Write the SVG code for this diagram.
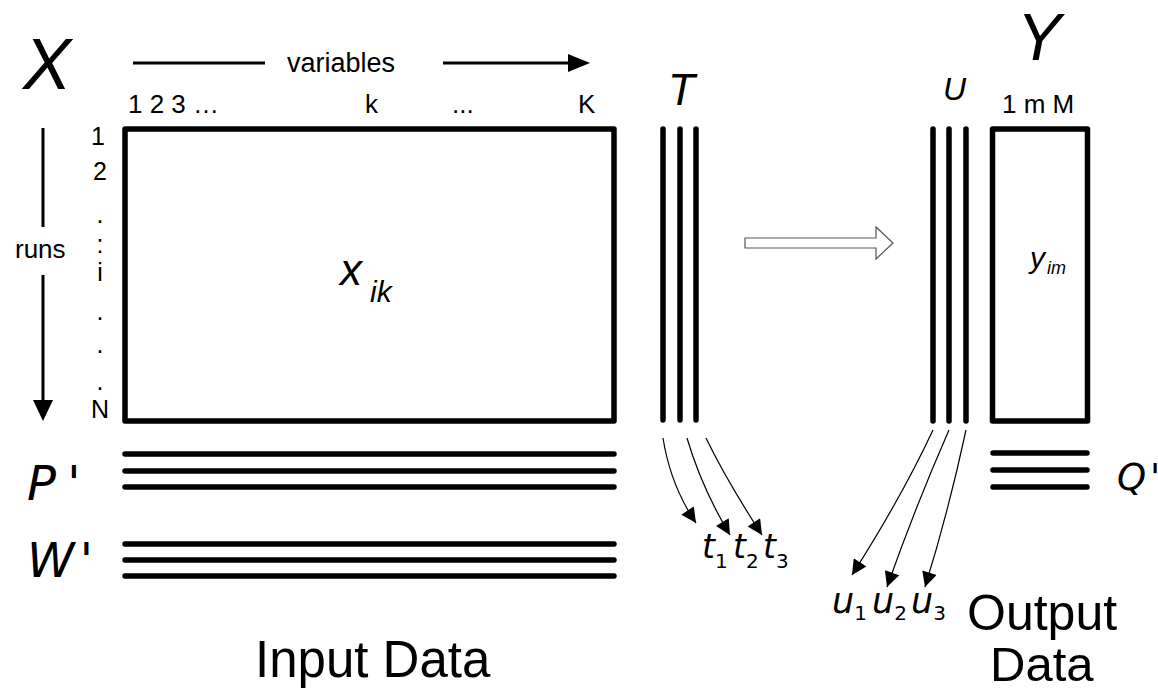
<svg xmlns="http://www.w3.org/2000/svg" width="1158" height="692" viewBox="0 0 1158 692">
  <style>
    .sans { font-family: "Liberation Sans", Arial, sans-serif; fill: #000; }
    .it { font-style: italic; }
    .dv { font-family: "DejaVu Sans", Verdana, sans-serif; font-style: italic; fill: #000; }
    .sub { font-style: normal; }
    .bar { stroke: #000; stroke-width: 5.5; stroke-linecap: round; fill: none; }
    .box { stroke: #000; stroke-width: 5.5; stroke-linejoin: round; fill: none; }
    .thin { stroke: #000; stroke-width: 1.2; fill: none; }
    .axis { stroke: #000; stroke-width: 3; fill: none; }
    .head { fill: #000; }
  </style>
  <defs>
    <marker id="tri-small" viewBox="0 0 10 10" refX="10" refY="5" markerWidth="16" markerHeight="15" markerUnits="userSpaceOnUse" orient="auto">
      <path d="M0,0 L10,5 L0,10 Z" fill="#000"/>
    </marker>
  </defs>

  <rect width="1158" height="692" fill="#fff"/>

  <!-- Input matrix X -->
  <g id="matrix-x">
    <text class="sans it" x="23" y="89" font-size="72">X</text>
    <text class="sans" x="287" y="72" font-size="27">variables</text>
    <text class="sans" x="128" y="113" font-size="26">1 2 3 …</text>
    <text class="sans" x="365" y="113" font-size="26">k</text>
    <text class="sans" x="452" y="113" font-size="26">...</text>
    <text class="sans" x="578" y="113" font-size="26">K</text>
    <text class="sans" x="15" y="258" font-size="26">runs</text>
    <g class="sans" font-size="25" text-anchor="middle">
      <text x="98" y="145">1</text>
      <text x="100" y="180">2</text>
      <text x="100" y="223">.</text>
      <text x="100" y="253">:</text>
      <text x="100" y="281">i</text>
      <text x="100" y="320">.</text>
      <text x="100" y="353">.</text>
      <text x="100" y="390">.</text>
      <text x="100" y="418">N</text>
    </g>
    <rect class="box" x="125" y="129" width="489" height="292"/>
    <text class="sans it" x="340" y="285" font-size="44">x<tspan x="370" y="302" font-size="30">ik</tspan></text>
  </g>

  <!-- Loadings P' -->
  <g id="loadings-p">
    <text class="dv" x="27" y="500" font-size="48" word-spacing="-4">P '</text>
    <path class="bar" d="M125,454 H614 M125,471 H614 M125,487 H614"/>
  </g>

  <!-- Weights W' -->
  <g id="weights-w">
    <text class="dv" x="27" y="577" font-size="48" word-spacing="-10">W '</text>
    <path class="bar" d="M125,544 H614 M125,560 H614 M125,576 H614"/>
  </g>

  <!-- Scores T -->
  <g id="scores-t">
    <text class="sans it" x="668" y="105" font-size="44">T</text>
    <path class="bar" d="M663,129 V420 M680,129 V420 M696,129 V420"/>
    <g class="dv" font-size="33">
      <text x="702" y="558">t<tspan class="sub" font-size="20" dy="10">1</tspan></text>
      <text x="733" y="558">t<tspan class="sub" font-size="20" dy="10">2</tspan></text>
      <text x="763" y="558">t<tspan class="sub" font-size="20" dy="10">3</tspan></text>
    </g>
  </g>

  <!-- Scores U -->
  <g id="scores-u">
    <text class="sans it" x="943" y="100" font-size="32">U</text>
    <path class="bar" d="M933,129 V421 M949,129 V421 M966,129 V421"/>
    <g class="dv" font-size="35">
      <text x="832" y="613">u<tspan class="sub" font-size="20" dy="7">1</tspan></text>
      <text x="872" y="613">u<tspan class="sub" font-size="20" dy="7">2</tspan></text>
      <text x="911" y="613">u<tspan class="sub" font-size="20" dy="7">3</tspan></text>
    </g>
  </g>

  <!-- Output matrix Y -->
  <g id="matrix-y">
    <text class="sans it" x="1017" y="60" font-size="66">Y</text>
    <text class="sans" x="1002" y="113" font-size="26">1 m M</text>
    <rect class="box" x="992.5" y="129" width="95" height="292"/>
    <text class="sans it" x="1030" y="268" font-size="30">y<tspan x="1047" y="274" font-size="18">im</tspan></text>
  </g>

  <!-- Loadings Q' -->
  <g id="loadings-q">
    <path class="bar" d="M993,453 H1087 M993,470 H1087 M993,487 H1087"/>
    <text class="dv" x="1117" y="490" font-size="37" word-spacing="-8">Q '</text>
  </g>

  <!-- Captions -->
  <g id="caption-input">
    <text class="sans" x="255" y="677" font-size="51">Input Data</text>
  </g>
  <g id="caption-output">
    <text class="sans" x="967" y="630" font-size="50">Output</text>
    <text class="sans" x="990" y="681" font-size="49">Data</text>
  </g>

  <!-- Connectors -->
  <g id="connectors">
    <!-- variables axis -->
    <path class="axis" d="M133,63 H265"/>
    <path class="axis" d="M443,63 H570"/>
    <path class="head" d="M568,54 L590,63 L568,72 Z"/>
    <!-- runs axis -->
    <path class="axis" d="M43,128 V227"/>
    <path class="axis" d="M43,275 V402"/>
    <path class="head" d="M33,400 L43,421 L53,400 Z"/>
    <!-- model mapping arrow -->
    <path d="M745,238 H876 V227 L893,243 L876,259 V248 H745 Z" fill="#fff" stroke="#555" stroke-width="1.2"/>
    <!-- score vectors of T -->
    <path class="thin" d="M663,438 Q670.5,485.5 696,523" marker-end="url(#tri-small)"/>
    <path class="thin" d="M687,438 Q701.5,487.5 730,535" marker-end="url(#tri-small)"/>
    <path class="thin" d="M706,438 Q726,479.5 762,535" marker-end="url(#tri-small)"/>
    <!-- score vectors of U -->
    <path class="thin" d="M933,430 Q901.5,497.5 852,575" marker-end="url(#tri-small)"/>
    <path class="thin" d="M949,430 Q916,505 887,587" marker-end="url(#tri-small)"/>
    <path class="thin" d="M966,430 Q948.5,511.5 925,587" marker-end="url(#tri-small)"/>
  </g>
</svg>
